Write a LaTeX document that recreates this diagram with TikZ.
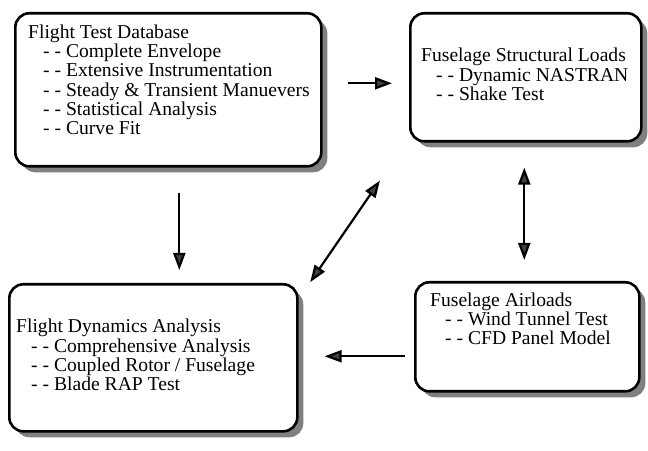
\documentclass[tikz,border=0pt]{standalone}
\usepackage{fontspec}
\setmainfont{Liberation Serif}
\usetikzlibrary{arrows.meta,shadows,positioning}
\tikzset{
  panel/.style={draw, line width=2.6pt, rounded corners=14pt, fill=white,
    drop shadow={shadow xshift=6pt, shadow yshift=-6pt, fill=black!50, opacity=1}},
  blurb/.style={align=left, inner sep=0pt, anchor=north west,
    font=\fontsize{19.6}{19.3}\selectfont},
  flow/.style={line width=2.2pt, -{Triangle[length=17pt,width=12pt,fill=black!75]}},
  flow2/.style={line width=2.2pt, {Triangle[length=17pt,width=12pt,fill=black!75]}-{Triangle[length=17pt,width=12pt,fill=black!75]}}
}
\newcommand{\sub}{\hspace*{15pt}- - }
\begin{document}
\begin{tikzpicture}[x=1pt,y=1pt]
\useasboundingbox (0,0) rectangle (648,450);
% the four boxes
\node[panel, anchor=north west, minimum width=306, minimum height=153] (ftdb) at (14,438) {};
\node[panel, anchor=north west, minimum width=231, minimum height=128] (fsl) at (409,438) {};
\node[panel, anchor=north west, minimum width=288, minimum height=147] (fda) at (8,167) {};
\node[panel, anchor=north west, minimum width=224, minimum height=109] (fal) at (414,169) {};
% their texts
\node[blurb] (ftdbtxt) at ([shift={(14,-12.5)}]ftdb.north west)
  {Flight Test Database\\ \sub Complete Envelope\\ \sub Extensive Instrumentation\\
   \sub Steady \& Transient Manuevers\\ \sub Statistical Analysis\\ \sub Curve Fit};
\node[blurb] (fsltxt) at ([shift={(12,-36)}]fsl.north west)
  {Fuselage Structural Loads\\ \sub Dynamic NASTRAN\\ \sub Shake Test};
\node[blurb] (fdatxt) at ([shift={(8,-36)}]fda.north west)
  {Flight Dynamics Analysis\\ \sub Comprehensive Analysis\\ \sub Coupled Rotor / Fuselage\\
   \sub Blade RAP Test};
\node[blurb] (faltxt) at ([shift={(16,-11.5)}]fal.north west)
  {Fuselage Airloads\\ \sub Wind Tunnel Test\\ \sub CFD Panel Model};
% connectors
\draw[flow, shorten <=25pt, shorten >=17pt] ([yshift=6.5pt]ftdb.east) -- ([yshift=-6pt]fsl.west);
\draw[flow, shorten <=25pt, shorten >=13pt] ([xshift=11pt]ftdb.south) -- ([xshift=26pt]fda.north);
\draw[flow2, shorten <=1pt, shorten >=46pt] ([xshift=11pt]fda.north east) -- ([xshift=-3pt]fsl.south west);
\draw[flow2, shorten <=25pt, shorten >=21pt] ([xshift=-1.5pt]fsl.south) -- ([xshift=-3pt]fal.north);
\draw[flow, shorten <=9pt, shorten >=26pt] ([yshift=-19.5pt]fal.west) -- ([yshift=1.5pt]fda.east);
\end{tikzpicture}
\end{document}
